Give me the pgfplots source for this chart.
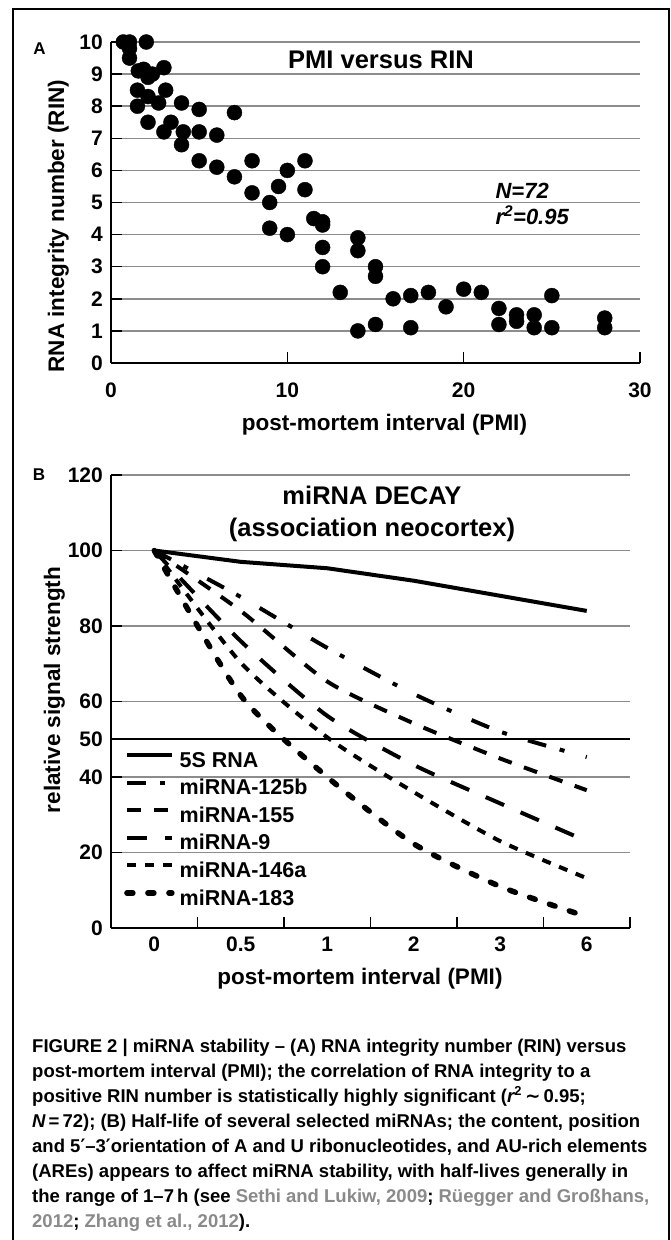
\documentclass[border=0pt]{standalone}
\usepackage{fontspec}
\setmainfont{Liberation Sans}
\newfontfamily\capfont{Liberation Sans}
\newfontfamily\symfont{DejaVu Sans}
\usepackage{pgfplots}
\pgfplotsset{compat=1.18}
\definecolor{gridgray}{HTML}{8C8C8C}
\definecolor{citegray}{HTML}{8A8A8A}
\newcommand{\fs}[1]{\fontsize{#1}{#1}\selectfont}

\pgfplotsset{
  panel/.style={
    scale only axis, clip=false,
    axis x line=bottom, axis y line=left,
    axis line style={-, line width=1.8pt, black},
    tick align=inside, major tick length=11pt,
    tick style={line width=1.5pt, black},
    ymajorgrids, major grid style={line width=1.5pt, gridgray},
    /pgf/number format/assume math mode=true,
    ticklabel style={font=\fs{21}\bfseries},
    yticklabel style={inner sep=0pt, xshift=-8pt},
    xticklabel style={inner sep=0pt},
  },
}

\begin{document}
\begin{tikzpicture}[x=1pt,y=-1pt]
\path[use as bounding box] (0,0) rectangle (671,1240);
\fill[white] (0,0) rectangle (671,1240);
\draw[line width=1.3pt] (13,1240) -- (13,9) -- (669,9) -- (669,1240);

% ---------- panel A
\begin{axis}[panel,
  at={(111pt,-363pt)}, anchor=south west,
  width=529pt, height=321pt,
  xmin=0, xmax=30, ymin=0, ymax=10,
  xtick={0,10,20,30}, ytick={0,1,...,10},
  xticklabel style={yshift=-20pt},
]
\addplot[only marks, mark=*, mark size=7.5pt, black] coordinates {
(0.7,10) (1.05,10) (1.05,9.8) (1.05,9.5) (2.0,10)
(1.55,9.1) (1.85,9.15) (2.1,8.9) (2.35,9.0) (3.0,9.2)
(1.5,8.5) (2.1,8.3) (3.1,8.5) (1.5,8.0) (2.7,8.1) (4.0,8.1) (5.0,7.9) (7.0,7.8)
(2.1,7.5) (3.4,7.5) (3.0,7.2) (4.1,7.2) (5.0,7.2) (6.0,7.1) (4.0,6.8)
(5.0,6.3) (6.0,6.1) (7.0,5.8) (8.0,6.3) (10.0,6.0) (11.0,6.3)
(8.0,5.3) (9.5,5.5) (11.0,5.4) (9.0,5.0)
(9.0,4.2) (10.0,4.0) (11.5,4.5) (12.0,4.4) (12.0,4.3) (12.0,3.6) (12.0,3.0)
(13.0,2.2) (14.0,3.9) (14.0,3.5) (14.0,1.0) (15.0,3.0) (15.0,2.7) (15.0,1.2)
(16.0,2.0) (17.0,2.1) (17.0,1.1) (18.0,2.2) (19.0,1.75) (20.0,2.3) (21.0,2.2)
(22.0,1.7) (22.0,1.2) (23.0,1.5) (23.0,1.3) (24.0,1.5) (24.0,1.1)
(25.0,2.1) (25.0,1.1) (28.0,1.4) (28.0,1.1)
};
\end{axis}

% ---------- panel B
\begin{axis}[panel,
  at={(111pt,-928pt)}, anchor=south west,
  width=519pt, height=453pt,
  xmin=-0.5, xmax=5.5, ymin=0, ymax=120,
  xtick={0.5,1.5,...,5.5}, xticklabels={0,0.5,1,2,3,6},
  xticklabel style={xshift=-43.25pt, yshift=-9pt},
  ytick={0,20,40,60,80,100,120},
  extra y ticks={50},
  extra y tick style={grid=major, major grid style={black, line width=2.2pt}},
  legend image code/.code={\draw[#1] (0pt,5pt) -- (45pt,5pt);},
  legend style={at={(0.025,0.393)}, anchor=north west, draw=none, fill=none,
    font=\fs{21.5}\bfseries, row sep=6.5pt, column sep=3pt, inner sep=0pt},
  legend cell align=left,
]
\addplot[black, line width=4pt] coordinates
  {(0,100) (1,97) (2,95.3) (3,92) (4,88) (5,84)};
\addlegendentry{5S RNA}
\addplot[black, line width=4pt, smooth, tension=0.4, dash pattern=on 19pt off 14pt on 5pt off 22pt] coordinates
  {(0,100) (1,87.7) (2,74.2) (3,62) (4,52) (5,45.3)};
\addlegendentry{miRNA-125b}
\addplot[black, line width=4pt, smooth, tension=0.4, dash pattern=on 14pt off 13pt] coordinates
  {(0,100) (1,84) (2,65.3) (3,54.2) (4,44.9) (5,36.5)};
\addlegendentry{miRNA-155}
\addplot[black, line width=4pt, smooth, tension=0.4, dash pattern=on 20pt off 18pt] coordinates
  {(0,100) (1,76) (2,56.2) (3,43.2) (4,33) (5,23)};
\addlegendentry{miRNA-9}
\addplot[black, line width=4pt, smooth, tension=0.4, dash pattern=on 9pt off 9pt] coordinates
  {(0,100) (1,70.3) (2,50.5) (3,36) (4,23) (5,13.2)};
\addlegendentry{miRNA-146a}
\addplot[black, line width=5.5pt, smooth, tension=0.4, line cap=round, dash pattern=on 6pt off 15pt] coordinates
  {(0,100) (1,61.6) (2,40) (3,22.3) (4,11) (5,3)};
\addlegendentry{miRNA-183}
\end{axis}

% ---------- texts
\node[anchor=base, font=\fs{17}\bfseries] at (39.5,54) {A};
\node[anchor=base, font=\fs{17}\bfseries] at (39,480) {B};
\node[anchor=base, font=\fs{25.5}\bfseries] at (381,68) {PMI versus RIN};
\node[anchor=base west, font=\fs{22}\bfseries\itshape] at (492,198) {N=72};
\node[anchor=base west, font=\fs{22}\bfseries\itshape] at (492,224) {r\textsuperscript{2}=0.95};
\node[anchor=base, font=\fs{22.5}\bfseries] at (384.5,430) {post-mortem interval (PMI)};
\node[anchor=base, rotate=90, font=\fs{22.5}\bfseries] at (64,226) {RNA integrity number (RIN)};
\node[anchor=base, font=\fs{25.5}\bfseries] at (372,504) {miRNA DECAY};
\node[anchor=base, font=\fs{25.5}\bfseries] at (372,536) {(association neocortex)};
\node[anchor=base, font=\fs{22.5}\bfseries] at (360,984) {post-mortem interval (PMI)};
\node[anchor=base, rotate=90, font=\fs{22.5}\bfseries] at (60,690) {relative signal strength};

% caption: base anchor of a multi-line node is the last line's baseline
\node[anchor=base west, align=left, inner sep=0pt,
  font=\capfont\bfseries\fontsize{18.5}{25}\selectfont] at (32,1227) {%
FIGURE 2 | miRNA stability – (A) RNA integrity number (RIN) versus\\
post-mortem interval (PMI); the correlation of RNA integrity to a\\
positive RIN number is statistically highly significant ({\itshape r}\textsuperscript{2}\,{\symfont ∼}\,0.95;\\
{\itshape N}\,=\,72); (B) Half-life of several selected miRNAs; the content, position\\
and 5{\symfont ′}–3{\symfont ′}orientation of A and U ribonucleotides, and AU-rich elements\\
(AREs) appears to affect miRNA stability, with half-lives generally in\\
the range of 1–7\,h (see \textcolor{citegray}{Sethi and Lukiw, 2009}; \textcolor{citegray}{Rüegger and Großhans,}\\
\textcolor{citegray}{2012}; \textcolor{citegray}{Zhang et al., 2012}).};
\end{tikzpicture}
\end{document}
